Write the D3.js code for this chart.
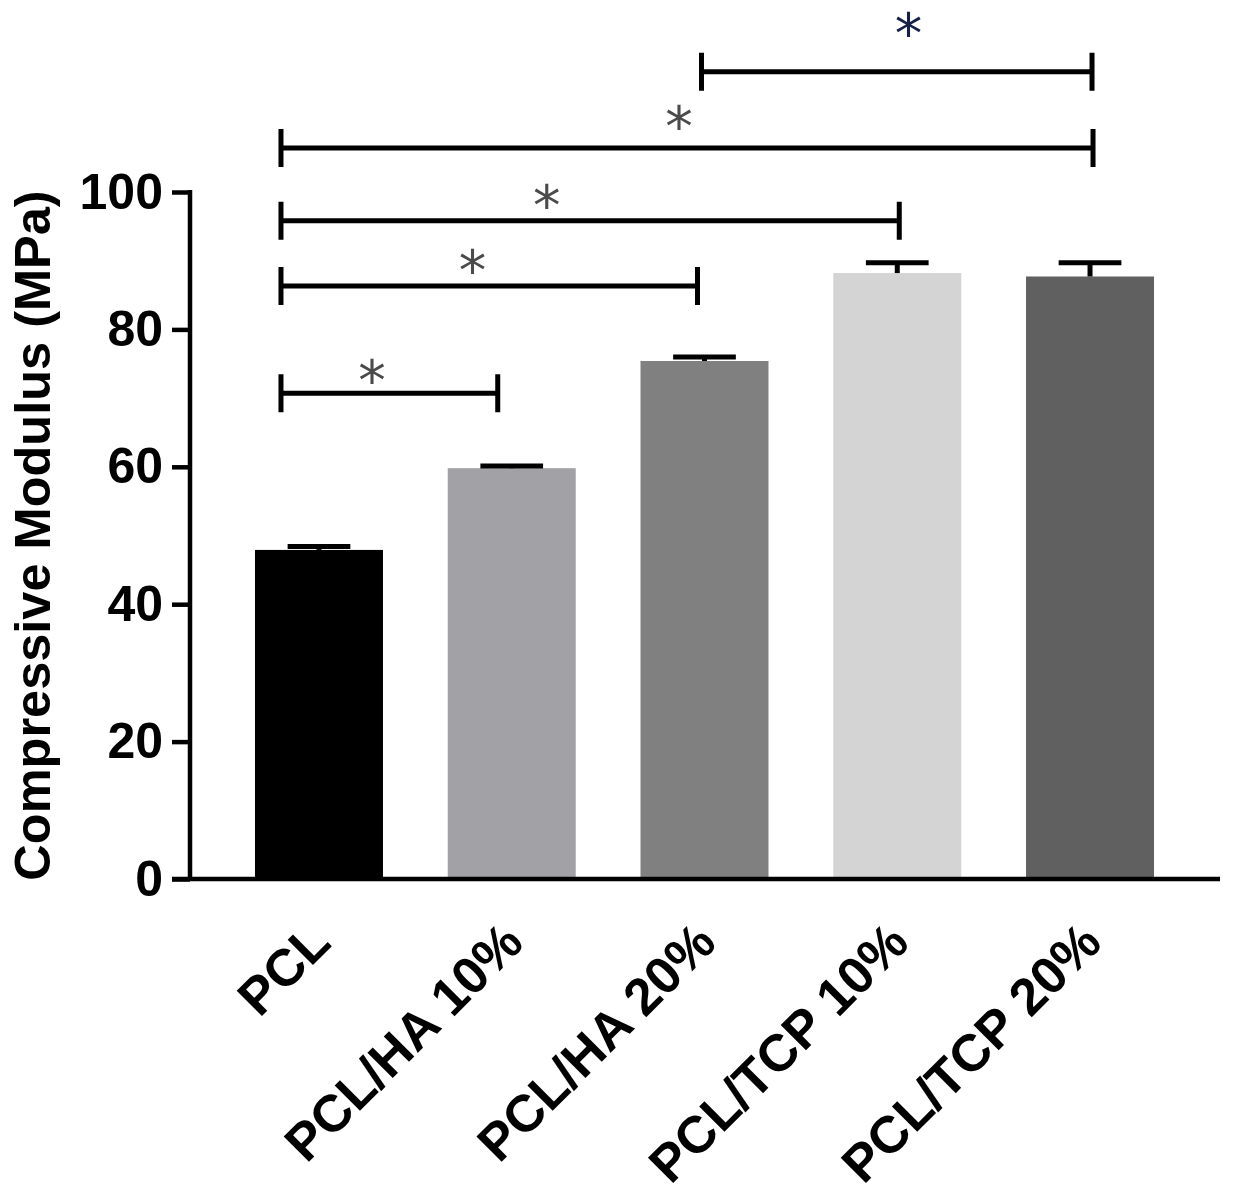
<!DOCTYPE html>
<html>
  <head>
    <meta charset="utf-8" />
    <style>
      body { margin: 0; background: #fff; }
      text { font-family: "Liberation Sans", Arial, sans-serif; }
    </style>
  </head>
  <body>

<svg id="graph"></svg>

<script src="https://d3js.org/d3.v7.min.js"></script>
<script>
// window size
const WIDTH = 1233
const HEIGHT = 1193

// the data
const GROUPS = ['PCL', 'PCL/HA 10%', 'PCL/HA 20%', 'PCL/TCP 10%', 'PCL/TCP 20%']
const MEANS = [47.9, 59.8, 75.4, 88.2, 87.7]
const ERRORS = [0.5, 0.3, 0.6, 1.5, 2.0]
const FILLS = ['#000000', '#a2a2a6', '#808080', '#d4d4d4', '#606060']
const Y_TICKS = [0, 20, 40, 60, 80, 100]
// significance brackets: from group, to group, height of the bar and of the star (MPa)
const BRACKET_FROM = [0, 0, 0, 0, 2]
const BRACKET_TO = [1, 2, 3, 4, 4]
const BRACKET_LEVEL = [70.7, 86.3, 95.8, 106.4, 117.5]
const BRACKET_STAR = [73.8, 89.8, 99.3, 110.8, 124.3]

// plot area
const X0 = 190
const Y0 = 879
const Y1 = 192
// bracket end offsets (px) and star position along the bracket
const END_LEFT = [-38, -38, -38, -38, -3]
const END_RIGHT = [-14, -7, 2, 3, 2]
const STAR_FRAC = [0.42, 0.46, 0.43, 0.49, 0.53]

const svg = d3.select('#graph')
  .attr('width', WIDTH)
  .attr('height', HEIGHT)

const yScale = d3.scaleLinear()
  .domain([0, 100])
  .range([Y0, Y1])

const xScale = d3.scaleBand()
  .domain(GROUPS)
  .range([222.6, 1186.4])
  .paddingInner(0.336)
  .paddingOuter(0.168)

const center = i => xScale(GROUPS[i]) + xScale.bandwidth() / 2

// bars
svg.append('g').selectAll('rect')
  .data(GROUPS)
  .enter()
    .append('rect')
    .attr('x', d => xScale(d))
    .attr('width', xScale.bandwidth())
    .attr('y', (d, i) => yScale(MEANS[i]))
    .attr('height', (d, i) => Y0 - yScale(MEANS[i]))
    .attr('fill', (d, i) => FILLS[i])

// error bars (upper only)
const errGroup = svg.append('g')
  .attr('stroke', '#000')
  .attr('stroke-width', 5)
GROUPS.forEach((g, i) => {
  const cx = center(i)
  const capHalf = xScale.bandwidth() * 0.245
  errGroup.append('line')
    .attr('x1', cx).attr('x2', cx)
    .attr('y1', yScale(MEANS[i])).attr('y2', yScale(MEANS[i] + ERRORS[i]))
  errGroup.append('line')
    .attr('x1', cx - capHalf).attr('x2', cx + capHalf)
    .attr('y1', yScale(MEANS[i] + ERRORS[i])).attr('y2', yScale(MEANS[i] + ERRORS[i]))
})

// y axis
const axisY = d3.axisLeft(yScale)
  .tickValues(Y_TICKS)
  .tickSize(18)
  .tickPadding(9)
  .tickSizeOuter(0)

const yAxisGroup = svg.append('g')
  .attr('transform', `translate(${X0}, 0)`)
  .call(axisY)
yAxisGroup.select('.domain')
  .attr('stroke-width', 4.5)
  .attr('d', `M0,${Y0 + 2}V${Y1 - 2}`)
yAxisGroup.selectAll('.tick line').attr('stroke-width', 4.5)
yAxisGroup.selectAll('.tick text')
  .attr('font-size', 50)
  .attr('font-weight', 'bold')
  .attr('fill', '#000')
  .style('font-family', '"Liberation Sans", Arial, sans-serif')

// x axis
const axisX = d3.axisBottom(xScale)
  .tickSize(0)
  .tickSizeOuter(0)
  .tickPadding(0)

const xAxisGroup = svg.append('g')
  .attr('transform', `translate(0, ${Y0})`)
  .call(axisX)
xAxisGroup.select('.domain')
  .attr('stroke-width', 4.5)
  .attr('d', 'M172,0H1220')
xAxisGroup.selectAll('.tick text')
  .attr('font-size', 52)
  .attr('font-weight', 'bold')
  .attr('fill', '#000')
  .attr('text-anchor', 'end')
  .attr('dy', 0)
  .attr('y', 0)
  .attr('transform', 'translate(14, 66) rotate(-45)')
  .style('font-family', '"Liberation Sans", Arial, sans-serif')

// y axis title
svg.append('text')
  .attr('transform', `translate(50, ${(Y0 + Y1) / 2}) rotate(-90)`)
  .attr('text-anchor', 'middle')
  .attr('font-size', 50.5)
  .attr('font-weight', 'bold')
  .text('Compressive Modulus (MPa)')

// significance brackets
const brGroup = svg.append('g')
  .attr('stroke', '#000')
  .attr('stroke-width', 5)
  .attr('fill', 'none')
BRACKET_LEVEL.forEach((lvl, k) => {
  const xa = center(BRACKET_FROM[k]) + END_LEFT[k]
  const xb = center(BRACKET_TO[k]) + END_RIGHT[k]
  const y = yScale(lvl)
  brGroup.append('path')
    .attr('d', `M${xa},${y - 19}V${y + 19}M${xa},${y}H${xb}M${xb},${y - 19}V${y + 19}`)
  svg.append('text')
    .attr('x', xa + (xb - xa) * STAR_FRAC[k])
    .attr('y', yScale(BRACKET_STAR[k]) + 28)
    .attr('text-anchor', 'middle')
    .attr('font-size', 55)
    .attr('fill', k === 4 ? '#14204a' : '#4a4a4a')
    .style('font-family', '"DejaVu Sans", sans-serif')
    .text('*')
})

</script>
  </body>
</html>
